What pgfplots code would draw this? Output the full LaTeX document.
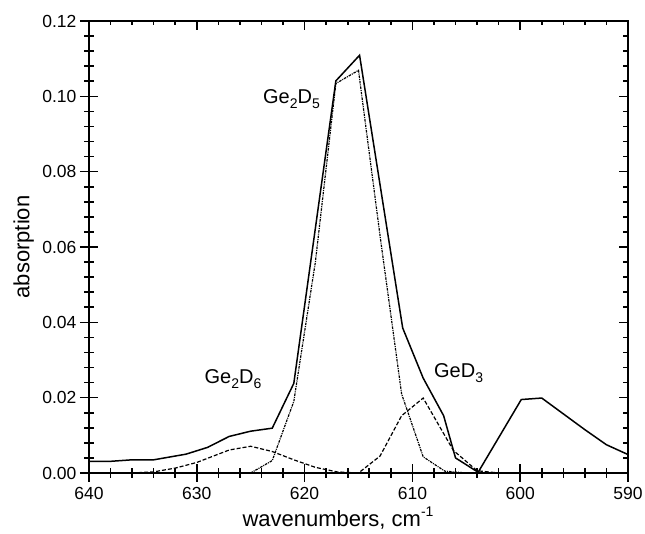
\documentclass[border=0pt]{standalone}
\usepackage{fontspec}
\setmainfont{Liberation Sans}
\usepackage{pgfplots}
\pgfplotsset{compat=1.18}

\newcommand\sub[1]{\raisebox{-0.5ex}{\fontsize{14}{16}\selectfont #1}}

\pgfplotstableread{
w      a
640    0.0031
638    0.0031
636    0.0035
634    0.0035
631    0.0050
629    0.0068
627    0.0097
625    0.0111
623    0.0119
621    0.0238
617.1  0.1041
614.9  0.1109
610.9  0.0385
609    0.0252
607.1  0.0152
606    0.0040
603.9  0.0002
599.9  0.0195
598    0.0199
594    0.0115
592    0.0075
590    0.0049
}\total

\pgfplotstableread{
w      a
625    0.0000
623    0.0033
621    0.0190
619    0.0560
617.1  0.1034
615    0.1069
613    0.0630
611    0.0210
609    0.0043
607    0.0005
605    0.0000
}\gedfive

\pgfplotstableread{
w      a
636    0.0000
634    0.0003
632    0.0013
630    0.0028
628    0.0050
627    0.0061
625    0.0071
623    0.0057
621    0.0035
619    0.0015
617    0.0003
615    0.0000
}\gedsix

\pgfplotstableread{
w      a
617    0.0000
615    0.0000
613    0.0045
611    0.0152
609    0.0199
606.2  0.0060
604    0.0006
602    0.0000
}\gedthree

\begin{document}
\begin{tikzpicture}
\pgfplotsset{
  common/.style={
    scale only axis, width=539pt, height=452pt,
    xmin=590, xmax=640, x dir=reverse,
    ymin=0, ymax=0.12,
    xtick={590,600,...,640}, ytick={0,0.02,...,0.12},
    minor x tick num=4, minor y tick num=4,
    axis line style={line width=2pt},
    every tick/.style={black, line width=1.6pt},
  }
}
\begin{axis}[common, name=main,
    tick align=center,
    xtick pos=bottom, ytick pos=left,
    major tick length=18pt, minor tick length=9.5pt,
    /pgf/number format/assume math mode=true,
    xticklabel style={font=\fontsize{17.5}{20}\selectfont, yshift=-2pt},
    yticklabel style={font=\fontsize{17.5}{20}\selectfont,
      /pgf/number format/.cd, fixed, fixed zerofill, precision=2},
    scaled y ticks=false,
    xlabel={wavenumbers, cm\raisebox{0.9ex}{\fontsize{14}{16}\selectfont -1}},
    ylabel={absorption},
    label style={font=\fontsize{22}{26}\selectfont},
    xlabel style={at={(axis description cs:0.462,0)}, anchor=base, yshift=-53.5pt},
    ylabel style={at={(axis description cs:-0.121,0.5)}, anchor=center},
]
\addplot[black, line width=1.5pt] table[x=w, y=a] {\total};
\addplot[black, line width=1.2pt, dash pattern=on 2.5pt off 1pt on 1pt off 1pt] table[x=w, y=a] {\gedfive};
\addplot[black, line width=1.2pt, dash pattern=on 4pt off 2pt] table[x=w, y=a] {\gedsix};
\addplot[black, line width=1.2pt, dash pattern=on 4pt off 2pt] table[x=w, y=a] {\gedthree};
\node[anchor=base west, font=\fontsize{20}{24}\selectfont, inner sep=0pt] at (axis cs:623.86,0.0982) {Ge\sub{2}D\sub{5}};
\node[anchor=base west, font=\fontsize{20}{24}\selectfont, inner sep=0pt] at (axis cs:629.29,0.0238) {Ge\sub{2}D\sub{6}};
\node[anchor=base west, font=\fontsize{20}{24}\selectfont, inner sep=0pt] at (axis cs:608.0,0.0253) {GeD\sub{3}};
\end{axis}
\begin{axis}[common,
    tick align=inside,
    xtick pos=top, ytick pos=right,
    major tick length=9pt, minor tick length=4.5pt,
    xticklabels={}, yticklabels={},
]
\end{axis}
\pgfresetboundingbox
\path (main.south west) ++(-89pt,-61pt) rectangle ++(645pt,534pt);
\end{tikzpicture}
\end{document}
